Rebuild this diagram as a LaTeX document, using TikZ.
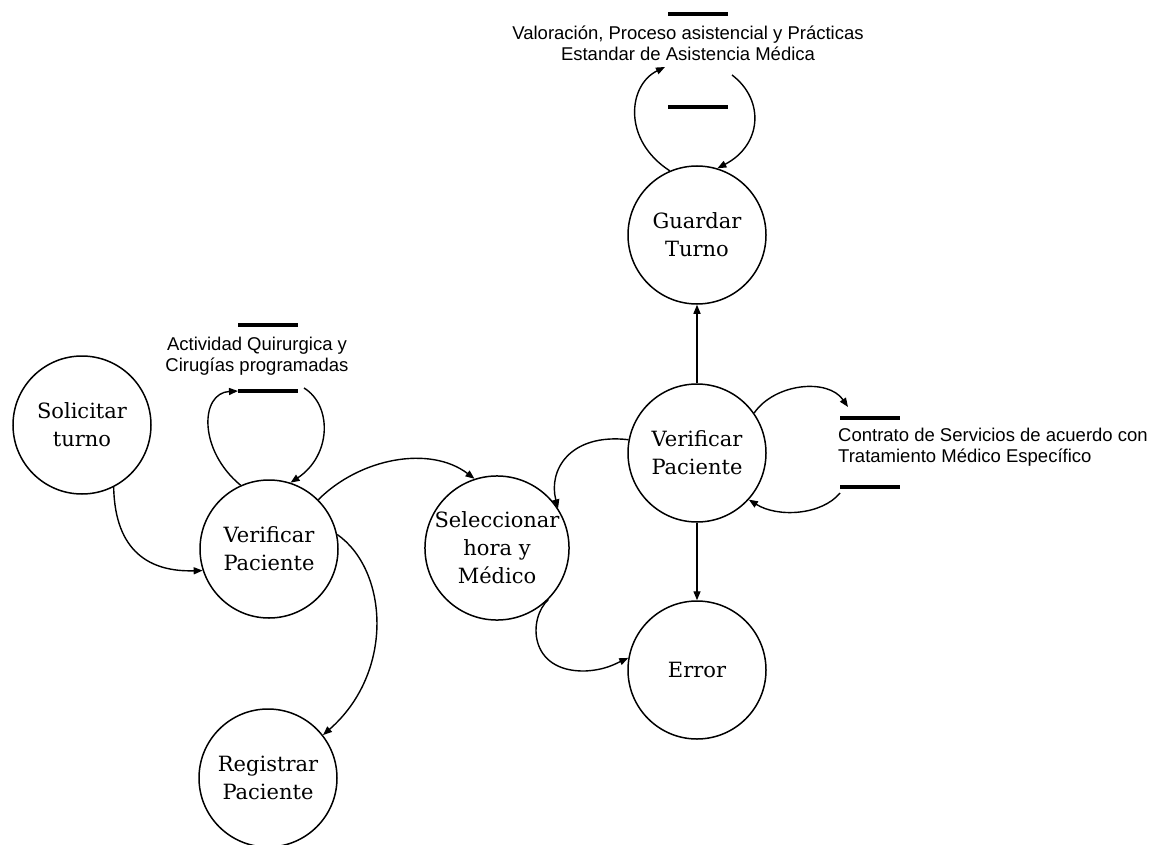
\documentclass[tikz,border=0pt]{standalone}
\usepackage{fontspec}
\setmainfont{DejaVu Serif}
\newfontfamily\labelfont{Liberation Sans}
\usetikzlibrary{arrows.meta}

\begin{document}
\begin{tikzpicture}[x=1pt,y=-1pt,
  proc/.style={circle, draw, line width=1.5pt, minimum size=138pt, inner sep=0pt,
    align=center, font=\fontsize{21}{28}\selectfont},
  flow/.style={line width=1.4pt, -{Triangle[length=9pt,width=7pt]}},
  bar/.style={line width=3.5pt},
  storelabel/.style={align=center, inner sep=0pt, font=\labelfont\fontsize{18.5}{21}\selectfont}
]
\useasboundingbox[fill=white] (0,0) rectangle (1161,845);

% processes
\node[proc] (sol) at (82,425)  {Solicitar\\turno};
\node[proc] (vpl) at (269,549) {Verificar\\Paciente};
\node[proc] (reg) at (268,778) {Registrar\\Paciente};
\node[proc] (sel) at (497,548) {Seleccionar\\hora y\\Médico};
\node[proc] (vpr) at (697,453) {Verificar\\Paciente};
\node[proc] (gt)  at (697,235) {Guardar\\Turno};
\node[proc] (err) at (697,670) {Error};

% data store: valoracion
\coordinate (valTL) at (668,14);  \coordinate (valTR) at (728,14);
\coordinate (valBL) at (668,107); \coordinate (valBR) at (728,107);
\draw[bar] (valTL) -- (valTR);
\draw[bar] (valBL) -- (valBR);
\node[storelabel] (valtxt) at (688,43) {Valoración, Proceso asistencial y Prácticas\\Estandar de Asistencia Médica};
\coordinate (valIn)  at (665,67);
\coordinate (valOut) at (732,75);

% data store: actividad quirurgica
\coordinate (actTL) at (238,325); \coordinate (actTR) at (298,325);
\coordinate (actBL) at (238,391); \coordinate (actBR) at (298,391);
\draw[bar] (actTL) -- (actTR);
\draw[bar] (actBL) -- (actBR);
\node[storelabel] (acttxt) at (257,356) {Actividad Quirurgica y\\Cirugías programadas};
\coordinate (actOut) at (304,388);

% data store: contrato de servicios
\coordinate (conTL) at (840,418); \coordinate (conTR) at (900,418);
\coordinate (conBL) at (840,487); \coordinate (conBR) at (900,487);
\draw[bar] (conTL) -- (conTR);
\draw[bar] (conBL) -- (conBR);
\node[storelabel, align=left, anchor=west] (contxt) at (838,447.5) {Contrato de Servicios de acuerdo con\\Tratamiento Médico Específico};
\coordinate (conIn)  at (848,407);
\coordinate (conOut) at (840,493);

% flows
\draw[flow] (sol.-63) .. controls (115,552) and (150,572) .. (vpl.-162);
\draw[flow] (vpl.114) .. controls (198,450) and (200,393) .. (actBL);
\draw[flow] (actOut) .. controls (332,405) and (332,455) .. (vpl.72);
\draw[flow] (vpl.45) .. controls (360,458) and (430,445) .. (sel.108);
\draw[flow] (vpl.12) .. controls (388,570) and (395,672) .. (reg.38);
\draw[flow] (vpr.169) .. controls (570,433) and (548,470) .. (sel.33);
\draw[flow] (sel.-45) .. controls (528,618) and (528,672) .. (585,671)
                     .. controls (605,670) and (615,664) .. (err.170);
\draw[flow] (vpr.north) -- (gt.south);
\draw[flow] (vpr.south) -- (err.north);
\draw[flow] (vpr.35) .. controls (775,383) and (828,378) .. (conIn);
\draw[flow] (conOut) .. controls (822,515) and (778,518) .. (vpr.-42);
\draw[flow] (gt.113) .. controls (622,140) and (628,85) .. (valIn);
\draw[flow] (valOut) .. controls (765,100) and (762,145) .. (gt.73);
\end{tikzpicture}
\end{document}
